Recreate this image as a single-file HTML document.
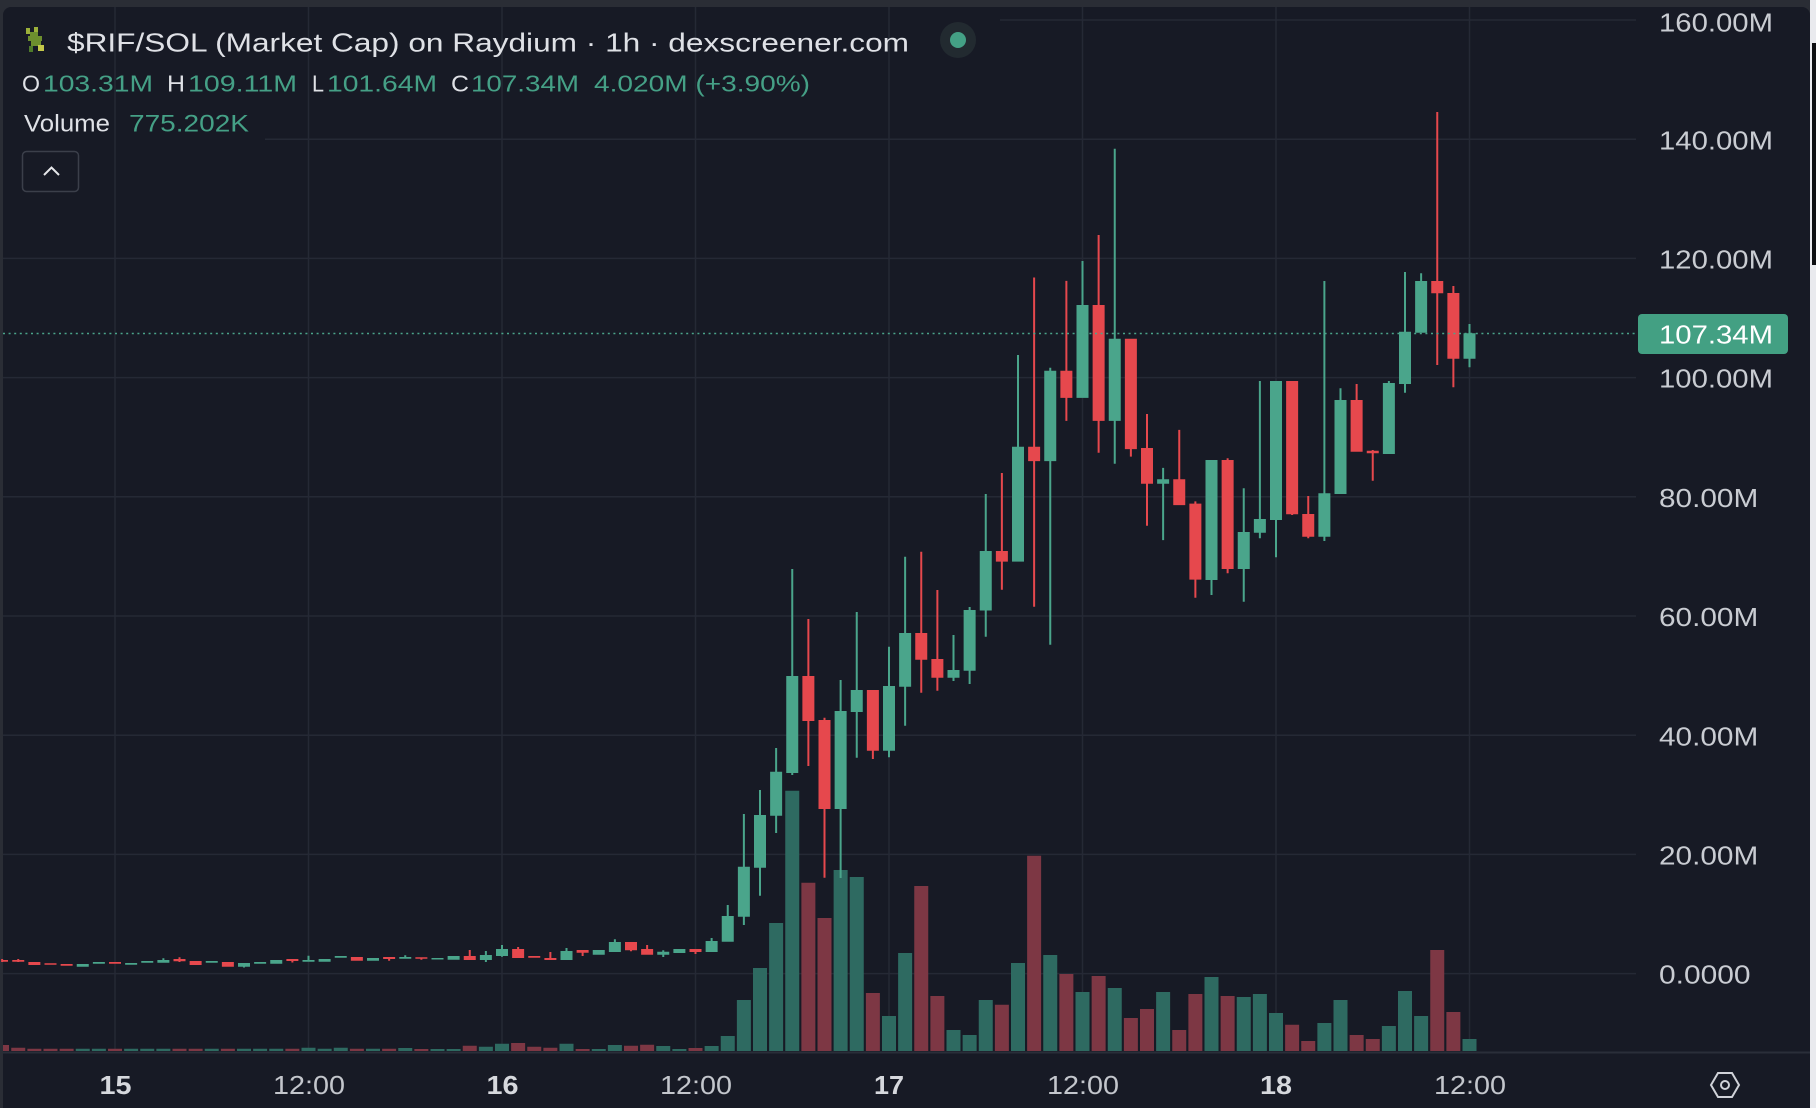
<!DOCTYPE html>
<html>
<head>
<meta charset="utf-8">
<style>
html,body{margin:0;padding:0;background:#2a2d35;}
svg{display:block;}
text{font-family:"Liberation Sans",Arial,sans-serif;}
</style>
</head>
<body>
<svg width="1816" height="1108" viewBox="0 0 1816 1108" xmlns="http://www.w3.org/2000/svg">
<rect x="0" y="0" width="1816" height="1108" fill="#2a2d35"/>
<rect x="3" y="7" width="1807" height="1101" rx="8" fill="#171a25"/>
<rect x="3" y="20" width="1807" height="1088" fill="#171a25"/>
<rect x="1810" y="0" width="6" height="1108" fill="#e9eaee"/>
<rect x="1812" y="43" width="4" height="222" fill="#0e0f12"/>

<path stroke="#252935" stroke-width="1.5" fill="none" d="M1000 20H1636 M265 139.2H1636 M3 258.4H1636 M3 377.6H1636 M3 496.8H1636 M3 616H1636 M3 735.2H1636 M3 854.4H1636 M3 973.6H1636 M115 7V1051 M308.5 7V1051 M502 7V1051 M695.5 7V1051 M889 7V1051 M1082.5 7V1051 M1276 7V1051 M1469.5 7V1051"/>

<path fill="#2e6a61" d="M75.75 1051v-2.3h14v2.3z M91.875 1051v-2.3h14v2.3z M124.125 1051v-2.3h14v2.3z M140.25 1051v-2.3h14v2.3z M156.375 1051v-2.3h14v2.3z M204.75 1051v-2.3h14v2.3z M237 1051v-2.3h14v2.3z M253.125 1051v-2.3h14v2.3z M269.25 1051v-2.3h14v2.3z M301.5 1051v-3.3h14v3.3z M317.625 1051v-2.3h14v2.3z M333.75 1051v-3.3h14v3.3z M366 1051v-2.3h14v2.3z M398.25 1051v-3h14v3z M430.5 1051v-2h14v2z M446.625 1051v-2h14v2z M478.875 1051v-4.3h14v4.3z M495 1051v-7.3h14v7.3z M559.5 1051v-7.3h14v7.3z M591.75 1051v-2h14v2z M607.875 1051v-6h14v6z M656.25 1051v-5h14v5z M672.375 1051v-2h14v2z M704.625 1051v-5h14v5z M720.75 1051v-15h14v15z M736.875 1051v-51h14v51z M753 1051v-83h14v83z M769.125 1051v-128h14v128z M785.25 1051v-260.3h14v260.3z M833.625 1051v-181h14v181z M849.75 1051v-174h14v174z M882 1051v-35h14v35z M898.125 1051v-98h14v98z M946.5 1051v-21h14v21z M962.625 1051v-16h14v16z M978.75 1051v-51h14v51z M1011 1051v-88h14v88z M1043.25 1051v-96h14v96z M1075.5 1051v-59h14v59z M1107.75 1051v-63h14v63z M1156.125 1051v-59h14v59z M1204.5 1051v-74h14v74z M1236.75 1051v-54h14v54z M1252.875 1051v-57h14v57z M1269 1051v-38h14v38z M1317.375 1051v-28h14v28z M1333.5 1051v-51h14v51z M1381.875 1051v-25h14v25z M1398 1051v-60h14v60z M1414.125 1051v-35h14v35z M1462.5 1051v-12h14v12z"/>

<path fill="#7d3744" d="M3 1051v-6h6v6z M11.25 1051v-3.3h14v3.3z M27.375 1051v-2.3h14v2.3z M43.5 1051v-2.3h14v2.3z M59.625 1051v-2.3h14v2.3z M108 1051v-2.3h14v2.3z M172.5 1051v-2.3h14v2.3z M188.625 1051v-2.3h14v2.3z M220.875 1051v-2.3h14v2.3z M285.375 1051v-2.3h14v2.3z M349.875 1051v-2.3h14v2.3z M382.125 1051v-2.3h14v2.3z M414.375 1051v-2h14v2z M462.75 1051v-5.3h14v5.3z M511.125 1051v-8h14v8z M527.25 1051v-4.3h14v4.3z M543.375 1051v-3.3h14v3.3z M575.625 1051v-2h14v2z M624 1051v-5.3h14v5.3z M640.125 1051v-6.3h14v6.3z M688.5 1051v-3h14v3z M801.375 1051v-168.3h14v168.3z M817.5 1051v-133h14v133z M865.875 1051v-58h14v58z M914.25 1051v-165h14v165z M930.375 1051v-55h14v55z M994.875 1051v-46.3h14v46.3z M1027.125 1051v-195.3h14v195.3z M1059.375 1051v-77h14v77z M1091.625 1051v-75h14v75z M1123.875 1051v-33h14v33z M1140 1051v-42h14v42z M1172.25 1051v-21h14v21z M1188.375 1051v-57h14v57z M1220.625 1051v-55h14v55z M1285.125 1051v-26.3h14v26.3z M1301.25 1051v-10h14v10z M1349.625 1051v-16h14v16z M1365.75 1051v-12h14v12z M1430.25 1051v-101h14v101z M1446.375 1051v-39h14v39z"/>

<path fill="#e6484d" d="M1.125 959h2v3h-2z M3 960h5v1.7h-5z M17.25 959h2v3h-2z M12.25 960h12v1.7h-12z M28.375 962h12v3h-12z M44.5 963.3h12v1.5h-12z M60.625 964h12v1.7h-12z M109 962h12v1.7h-12z M178.5 957.3h2v4.7h-2z M173.5 959h12v2.3h-12z M189.625 961h12v4h-12z M221.875 962h12v4.7h-12z M291.375 959h2v3.5h-2z M286.375 959h12v2h-12z M350.875 957h12v3.7h-12z M388.125 957h2v3.7h-2z M383.125 957h12v2h-12z M420.375 957.3h2v2.4h-2z M415.375 957.3h12v1.5h-12z M468.75 950h2v10h-2z M463.75 956h12v4h-12z M517.125 947h2v11h-2z M512.125 949h12v9h-12z M528.25 956h12v1.7h-12z M549.375 952h2v8h-2z M544.375 958h12v2h-12z M581.625 950h2v6h-2z M576.625 950h12v2.7h-12z M630 942h2v9.3h-2z M625 942h12v8.3h-12z M646.125 945h2v9.7h-2z M641.125 949h12v5.7h-12z M694.5 949h2v5h-2z M689.5 949h12v3h-12z M807.375 619h2v147h-2z M802.375 676h12v45h-12z M823.5 717.7h2v160h-2z M818.5 720h12v89h-12z M871.875 690h2v69h-2z M866.875 690h12v60.7h-12z M920.25 551.7h2v141h-2z M915.25 633h12v26.7h-12z M936.375 590h2v100.7h-2z M931.375 659h12v18.7h-12z M1000.875 473h2v116.8h-2z M995.875 551h12v10.6h-12z M1033.125 277.5h2v329.2h-2z M1028.125 446.8h12v14.3h-12z M1065.375 280.9h2v140h-2z M1060.375 370.8h12v27.1h-12z M1097.625 235h2v217.8h-2z M1092.625 305h12v115.9h-12z M1129.875 338.8h2v117.8h-2z M1124.875 338.8h12v110.3h-12z M1146 414h2v111.8h-2z M1141 448h12v35.7h-12z M1178.25 429.9h2v75.2h-2z M1173.25 479.2h12v25.9h-12z M1194.375 501.4h2v96.3h-2z M1189.375 503.6h12v76h-12z M1226.625 458.3h2v115h-2z M1221.625 460h12v109h-12z M1291.125 381h2v134h-2z M1286.125 381h12v133.3h-12z M1307.25 496h2v42.3h-2z M1302.25 514h12v22.7h-12z M1355.625 384h2v67.7h-2z M1350.625 400h12v51.7h-12z M1371.75 450h2v30.7h-2z M1366.75 450.7h12v2.6h-12z M1436.25 112h2v253h-2z M1431.25 281h12v12.3h-12z M1452.375 286h2v101.3h-2z M1447.375 293h12v65.7h-12z"/>

<path fill="#4aa58b" d="M76.75 964h12v2.7h-12z M92.875 962h12v1.7h-12z M125.125 963h12v1.7h-12z M141.25 961h12v1.7h-12z M162.375 958.3h2v4.4h-2z M157.375 960h12v2.7h-12z M205.75 961h12v1.7h-12z M243 963h2v4.5h-2z M238 963h12v3.7h-12z M254.125 962h12v1.7h-12z M270.25 960h12v3.7h-12z M307.5 955.7h2v6h-2z M302.5 960h12v1.7h-12z M318.625 959h12v2.7h-12z M334.75 956h12v1.7h-12z M367 958h12v2.7h-12z M404.25 955.3h2v3.4h-2z M399.25 957h12v1.7h-12z M431.5 958h12v1.5h-12z M447.625 956h12v3.7h-12z M484.875 951h2v11h-2z M479.875 955h12v5h-12z M501 945h2v11.7h-2z M496 949h12v7h-12z M565.5 948h2v12h-2z M560.5 951h12v9h-12z M592.75 950h12v4.7h-12z M613.875 939.3h2v12.7h-2z M608.875 942h12v10h-12z M662.25 950.3h2v6.7h-2z M657.25 951.7h12v3h-12z M673.375 949h12v4h-12z M710.625 938h2v14h-2z M705.625 941h12v11h-12z M726.75 905h2v36.7h-2z M721.75 916h12v25.7h-12z M742.875 814h2v111h-2z M737.875 866.7h12v50h-12z M759 790h2v105.7h-2z M754 815h12v52.7h-12z M775.125 748h2v85h-2z M770.125 771.7h12v44h-12z M791.25 569h2v206h-2z M786.25 676h12v97h-12z M839.625 680h2v198h-2z M834.625 711h12v98h-12z M855.75 612h2v145.7h-2z M850.75 690h12v22h-12z M888 646.7h2v110.6h-2z M883 686h12v64.7h-12z M904.125 556.7h2v169h-2z M899.125 633h12v53.7h-12z M952.5 635h2v46h-2z M947.5 670h12v7.7h-12z M968.625 607h2v77h-2z M963.625 610h12v60.7h-12z M984.75 494h2v142.8h-2z M979.75 551h12v59.5h-12z M1017 355h2v206.6h-2z M1012 446.8h12v114.8h-12z M1049.25 367.8h2v276.9h-2z M1044.25 370.8h12v90.3h-12z M1081.5 261h2v136.9h-2z M1076.5 305h12v92.9h-12z M1113.75 148.8h2v315h-2z M1108.75 338.8h12v82.1h-12z M1162.125 467.9h2v72.2h-2z M1157.125 479.2h12v4.5h-12z M1210.5 460h2v135h-2z M1205.5 460h12v120h-12z M1242.75 488.3h2v113.4h-2z M1237.75 532h12v37h-12z M1258.875 381h2v157.3h-2z M1253.875 519h12v13.7h-12z M1275 381h2v176.3h-2z M1270 381h12v139h-12z M1323.375 281h2v260h-2z M1318.375 493.3h12v43.4h-12z M1339.5 388.3h2v105.7h-2z M1334.5 400h12v94h-12z M1387.875 381h2v73h-2z M1382.875 383h12v71h-12z M1404 272h2v120.7h-2z M1399 331.7h12v52.3h-12z M1420.125 273.3h2v59.4h-2z M1415.125 281h12v51.7h-12z M1468.5 324h2v43.3h-2z M1463.5 333.3h12v25.4h-12z"/>

<line x1="3" y1="333.5" x2="1636" y2="333.5" stroke="#4aa48a" stroke-width="1.5" stroke-dasharray="2 3.6"/>
<line x1="3" y1="1052.5" x2="1810" y2="1052.5" stroke="#2a2e39" stroke-width="2"/>

<g fill="#c9ccd2" font-size="26" lengthAdjust="spacingAndGlyphs">
<text x="1659" y="31.7" textLength="114" lengthAdjust="spacingAndGlyphs">160.00M</text>
<text x="1659" y="149.3" textLength="114" lengthAdjust="spacingAndGlyphs">140.00M</text>
<text x="1659" y="268.5" textLength="114" lengthAdjust="spacingAndGlyphs">120.00M</text>
<text x="1659" y="387.7" textLength="114" lengthAdjust="spacingAndGlyphs">100.00M</text>
<text x="1659" y="506.9" textLength="99.3" lengthAdjust="spacingAndGlyphs">80.00M</text>
<text x="1659" y="626.1" textLength="99.3" lengthAdjust="spacingAndGlyphs">60.00M</text>
<text x="1659" y="745.3" textLength="99.3" lengthAdjust="spacingAndGlyphs">40.00M</text>
<text x="1659" y="864.5" textLength="99.3" lengthAdjust="spacingAndGlyphs">20.00M</text>
<text x="1659" y="983.7" textLength="91.5" lengthAdjust="spacingAndGlyphs">0.0000</text>
</g>
<rect x="1638" y="314" width="150" height="40" rx="4" fill="#43a083"/>
<text x="1659" y="343.5" font-size="26" fill="#ffffff" textLength="114" lengthAdjust="spacingAndGlyphs">107.34M</text>

<g font-size="26" text-anchor="middle">
<text x="115.5" y="1094" font-weight="bold" fill="#d6d8dd" textLength="32" lengthAdjust="spacingAndGlyphs">15</text>
<text x="309" y="1094" fill="#c3c6cc" textLength="72" lengthAdjust="spacingAndGlyphs">12:00</text>
<text x="502.5" y="1094" font-weight="bold" fill="#d6d8dd" textLength="32" lengthAdjust="spacingAndGlyphs">16</text>
<text x="696" y="1094" fill="#c3c6cc" textLength="72" lengthAdjust="spacingAndGlyphs">12:00</text>
<text x="889" y="1094" font-weight="bold" fill="#d6d8dd" textLength="30" lengthAdjust="spacingAndGlyphs">17</text>
<text x="1083" y="1094" fill="#c3c6cc" textLength="72" lengthAdjust="spacingAndGlyphs">12:00</text>
<text x="1276" y="1094" font-weight="bold" fill="#d6d8dd" textLength="32" lengthAdjust="spacingAndGlyphs">18</text>
<text x="1470" y="1094" fill="#c3c6cc" textLength="72" lengthAdjust="spacingAndGlyphs">12:00</text>
</g>

<polygon points="1711,1085 1718,1073 1732,1073 1739,1085 1732,1097 1718,1097" fill="none" stroke="#d0d2d8" stroke-width="2"/>
<circle cx="1725" cy="1085" r="4" fill="none" stroke="#d0d2d8" stroke-width="2"/>

<path fill="#9bb03a" d="M26 28h4v6h-4z M34 27h4v5h-4z"/>
<path fill="#6d8f2e" d="M30 32h8v4h-8z M28 36h14v5h-14z M31 41h10v5h-10z"/>
<path fill="#c4c84a" d="M38 45h6v6h-6z"/>
<path fill="#4e7a2a" d="M29 46h4v6h-4z"/>

<text x="67" y="51.7" font-size="26" fill="#dfe1e6" textLength="842" lengthAdjust="spacingAndGlyphs">$RIF/SOL (Market Cap) on Raydium · 1h · dexscreener.com</text>
<circle cx="958" cy="40" r="18" fill="#222a30"/>
<circle cx="958" cy="40" r="8" fill="#44a085"/>

<g font-size="23">
<text x="22" y="91.7" fill="#dfe1e6" textLength="18" lengthAdjust="spacingAndGlyphs">O</text>
<text x="43" y="91.7" fill="#45a086" textLength="110" lengthAdjust="spacingAndGlyphs">103.31M</text>
<text x="167" y="91.7" fill="#dfe1e6" textLength="18" lengthAdjust="spacingAndGlyphs">H</text>
<text x="188" y="91.7" fill="#45a086" textLength="109" lengthAdjust="spacingAndGlyphs">109.11M</text>
<text x="312" y="91.7" fill="#dfe1e6" textLength="12" lengthAdjust="spacingAndGlyphs">L</text>
<text x="327" y="91.7" fill="#45a086" textLength="110" lengthAdjust="spacingAndGlyphs">101.64M</text>
<text x="451" y="91.7" fill="#dfe1e6" textLength="18" lengthAdjust="spacingAndGlyphs">C</text>
<text x="471" y="91.7" fill="#45a086" textLength="108" lengthAdjust="spacingAndGlyphs">107.34M</text>
<text x="594" y="91.7" fill="#45a086" textLength="216" lengthAdjust="spacingAndGlyphs">4.020M (+3.90%)</text>
</g>
<g font-size="24">
<text x="24" y="131.7" fill="#dfe1e6" textLength="86" lengthAdjust="spacingAndGlyphs">Volume</text>
<text x="129" y="131.7" fill="#45a086" textLength="120" lengthAdjust="spacingAndGlyphs">775.202K</text>
</g>

<rect x="22.5" y="151.5" width="56" height="40" rx="4" fill="#171a25" stroke="#3b3f4a" stroke-width="1.5"/>
<polyline points="44,175 51.5,167.5 59,175" fill="none" stroke="#e6e7ea" stroke-width="2"/>
</svg>
</body>
</html>
